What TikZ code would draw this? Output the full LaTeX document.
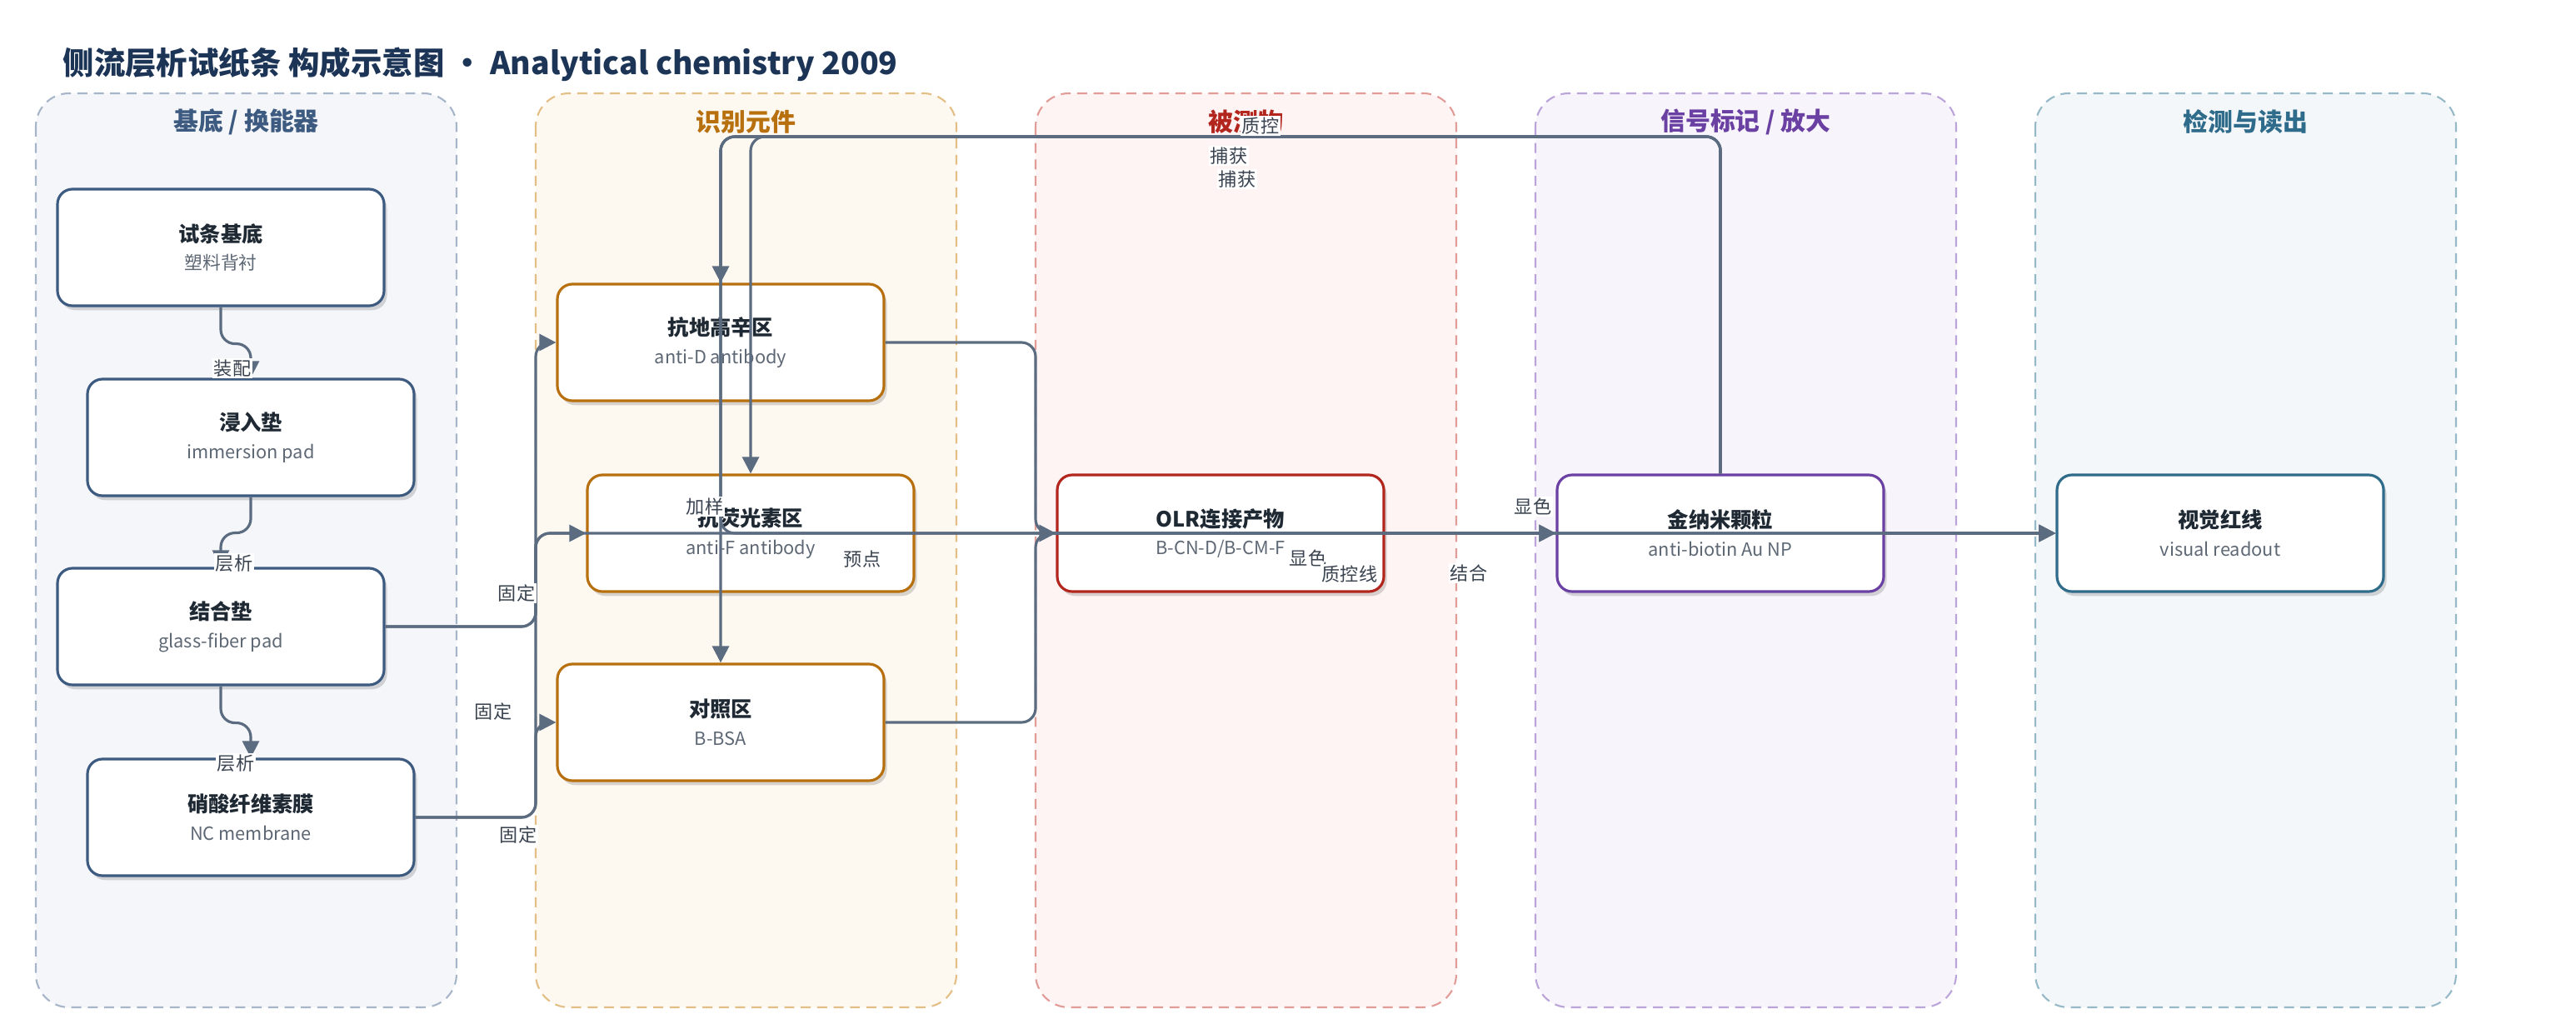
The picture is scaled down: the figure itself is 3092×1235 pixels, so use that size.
\documentclass[tikz,border=0pt]{standalone}
\usepackage{fontspec}
\setmainfont{Noto Sans CJK SC}
\usetikzlibrary{arrows.meta,shadows}

\definecolor{edgec}{HTML}{5B6B80}
\definecolor{txtc}{HTML}{1F2933}
\definecolor{subc}{HTML}{5E6875}
\definecolor{lblc}{HTML}{3A4350}
\definecolor{titlec}{HTML}{1C3455}
\definecolor{basefill}{HTML}{F4F6FA}
\definecolor{basedraw}{HTML}{A7B5C9}
\definecolor{basehead}{HTML}{3D5A80}
\definecolor{recfill}{HTML}{FDF8F0}
\definecolor{recdraw}{HTML}{E3BE85}
\definecolor{rechead}{HTML}{B8700F}
\definecolor{anafill}{HTML}{FDF4F3}
\definecolor{anadraw}{HTML}{E29C98}
\definecolor{anahead}{HTML}{B3261E}
\definecolor{sigfill}{HTML}{F7F4FB}
\definecolor{sigdraw}{HTML}{BBA4D9}
\definecolor{sighead}{HTML}{6B40A3}
\definecolor{detfill}{HTML}{F3F7F9}
\definecolor{detdraw}{HTML}{96B9C7}
\definecolor{dethead}{HTML}{2F6B8A}

\tikzset{lane/.style = {rounded corners=4mm,
                        line width=0.6pt,
                        dash pattern=on 3.4pt off 2.2pt},
         lanehead/.style = {font=\fontsize{8.5}{10}\selectfont\bfseries,
                            inner sep=0pt},
         box/.style = {shape=rectangle,
                       rounded corners=1.8mm,
                       draw,
                       line width=0.9pt,
                       fill=white,
                       minimum width=39.2mm,
                       minimum height=14mm,
                       inner sep=0pt,
                       align=center,
                       text=subc,
                       font=\fontsize{6.2}{9.6}\selectfont,
                       drop shadow={shadow xshift=1pt, shadow yshift=-1.5pt,
                                    opacity=0.15, fill=black}},
         flow/.style = {draw=edgec,
                        line width=0.9pt,
                        rounded corners=1.7mm,
                        -{Triangle[length=5.7pt,width=5.7pt]}},
         lbl/.style = {fill=white,
                       text=lblc,
                       inner sep=0.6pt,
                       font=\fontsize{6.3}{7}\selectfont}}

\newcommand{\nt}[2]{{\fontsize{7.2}{9.6}\selectfont\bfseries\color{txtc}#1}\\#2}

\begin{document}
\begin{tikzpicture}[x=0.1mm, y=-0.1mm]
  \useasboundingbox (0,0) rectangle (3092,1235);

  \node[anchor=west, text=titlec, inner sep=0pt,
        font=\fontsize{10.65}{12}\selectfont\bfseries] (title) at (75,77)
        {侧流层析试纸条 构成示意图 · Analytical chemistry 2009};

  \draw[lane, fill=basefill, draw=basedraw] (43,112) rectangle (548,1209);
  \draw[lane, fill=recfill, draw=recdraw] (643,112) rectangle (1148,1209);
  \draw[lane, fill=anafill, draw=anadraw] (1243,112) rectangle (1748,1209);
  \draw[lane, fill=sigfill, draw=sigdraw] (1843,112) rectangle (2348,1209);
  \draw[lane, fill=detfill, draw=detdraw] (2443,112) rectangle (2948,1209);

  \node[lanehead, text=basehead] (h1) at (295.5,146) {基底 / 换能器};
  \node[lanehead, text=rechead] (h2) at (895.5,146) {识别元件};
  \node[lanehead, text=anahead] (h3) at (1495.5,146) {被测物};
  \node[lanehead, text=sighead] (h4) at (2095.5,146) {信号标记 / 放大};
  \node[lanehead, text=dethead] (h5) at (2695.5,146) {检测与读出};

  \node[box, draw=basehead] (base) at (265,297) {\nt{试条基底}{塑料背衬}};
  \node[box, draw=basehead] (imm) at (301,525) {\nt{浸入垫}{immersion pad}};
  \node[box, draw=basehead] (conj) at (265,752) {\nt{结合垫}{glass-fiber pad}};
  \node[box, draw=basehead] (nc) at (301,981) {\nt{硝酸纤维素膜}{NC membrane}};
  \node[box, draw=rechead] (antid) at (865,411) {\nt{抗地高辛区}{anti-D antibody}};
  \node[box, draw=rechead] (antif) at (901,640) {\nt{抗荧光素区}{anti-F antibody}};
  \node[box, draw=rechead] (ctrl) at (865,867) {\nt{对照区}{B-BSA}};
  \node[box, draw=anahead] (olr) at (1465,640) {\nt{OLR连接产物}{B-CN-D/B-CM-F}};
  \node[box, draw=sighead] (aunp) at (2065,640) {\nt{金纳米颗粒}{anti-biotin Au NP}};
  \node[box, draw=dethead] (readout) at (2665,640) {\nt{视觉红线}{visual readout}};

  \coordinate (busl) at (643,640);
  \coordinate (busr) at (1243,640);
  \coordinate (top) at (0,164);

  \draw[flow] (base.south) -- ++(0,44) -| (imm.north);
  \draw[flow] (imm.south) -- ++(0,43) -| (conj.north);
  \draw[flow] (conj.south) -- ++(0,44) -| (nc.north);
  \draw[flow] (conj.east) -| (busl |- antid.west) -- (antid.west);
  \draw[flow] (nc.east) -| (busl) -- (antif.west);
  \draw[flow] (nc.east) -| (busl |- ctrl.west) -- (ctrl.west);
  \draw[flow] (conj.east) -| (busl) -- (aunp.west);
  \draw[flow] (aunp.north) |- (top -| antid.north) -- (antid.north);
  \draw[flow] (aunp.north) |- (top -| antif.north) -- (antif.north);
  \draw[flow] (aunp.north) |- (top -| ctrl.north) -- (ctrl.north);
  \draw[flow] (aunp.north) |- (top -| antid.north) -- (antid.north |- olr.west) -- (olr.west);
  \draw[flow] (antid.east) -| (busr) -- (readout.west);
  \draw[flow] (ctrl.east) -| (busr) -- (readout.west);
  \draw[flow] (olr.east) -- (aunp.west);
  \draw[flow] (aunp.east) -- (readout.west);

  \node[lbl] (l1) at (279,442) {装配};
  \node[lbl] (l2) at (281,676) {层析};
  \node[lbl] (l3) at (283,916) {层析};
  \node[lbl] (l4) at (620,712) {固定};
  \node[lbl] (l5) at (592,854) {固定};
  \node[lbl] (l6) at (622,1002) {固定};
  \node[lbl] (l7) at (846,608) {加样};
  \node[lbl] (l8) at (1035,671) {预点};
  \node[lbl] (l9) at (1513,151) {质控};
  \node[lbl] (l10) at (1475,187) {捕获};
  \node[lbl] (l11) at (1485,215) {捕获};
  \node[lbl] (l12) at (1570,670) {显色};
  \node[lbl] (l13) at (1620,689) {质控线};
  \node[lbl] (l14) at (1763,688) {结合};
  \node[lbl] (l15) at (1840,608) {显色};
\end{tikzpicture}
\end{document}
